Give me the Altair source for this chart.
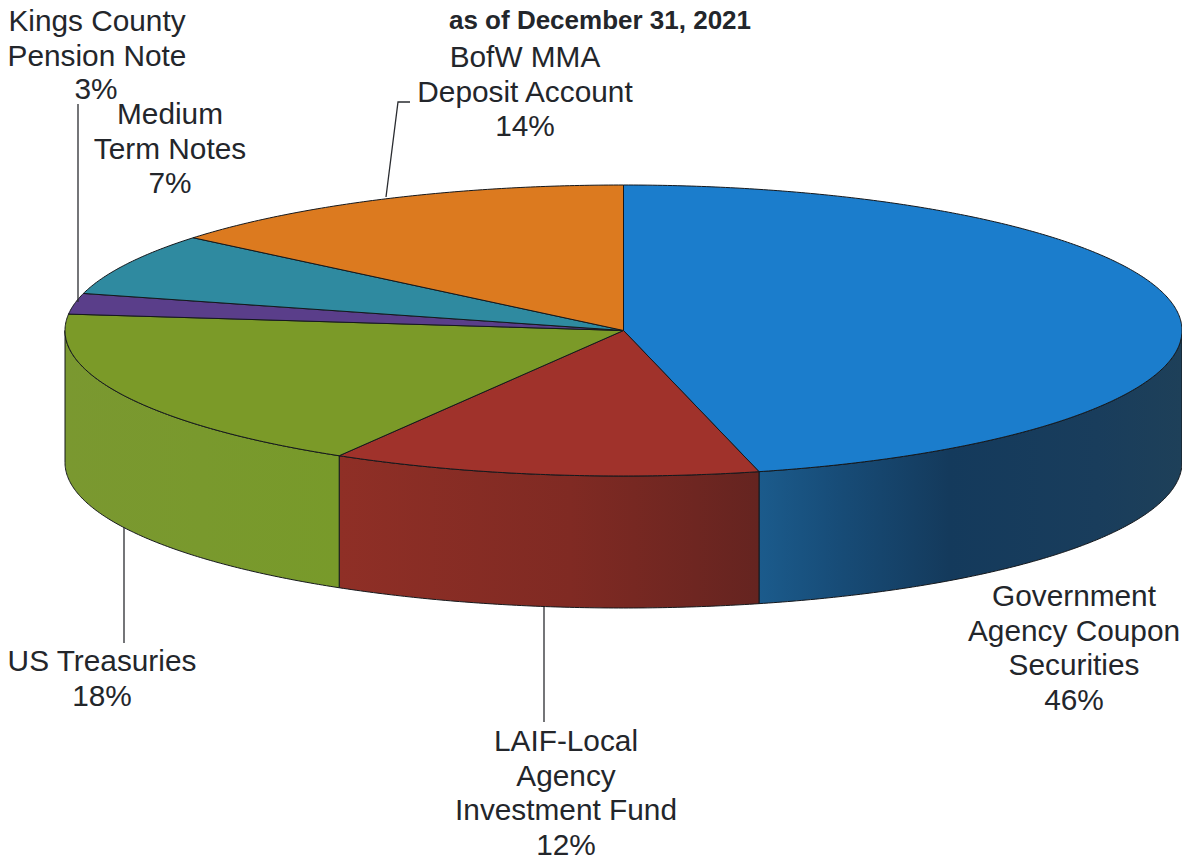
import math
import altair as alt
import pandas as pd

slices = ["Government Agency Coupon Securities", "LAIF-Local Agency Investment Fund",
          "US Treasuries", "Kings County Pension Note", "Medium Term Notes", "BofW MMA Deposit Account"]
drawn_share = [46.1, 12.4, 18.3, 2.3, 6.9, 14.0]
top_colors = ["#1b7dcc", "#a0322b", "#7b9a28", "#5a3e8a", "#2f8aa0", "#dc7a1f"]

label_lines = [
    ["Government", "Agency Coupon", "Securities", "46%"],
    ["LAIF-Local", "Agency", "Investment Fund", "12%"],
    ["US Treasuries", "18%"],
    ["Kings County", "Pension Note"],
    ["Medium", "Term Notes", "7%"],
    ["BofW MMA", "Deposit Account", "14%"],
]
extra_label = "3%"
title_text = "as of December 31, 2021"

# Layout of the drawing, in page pixels
LEFT, TOP, RIGHT, BOTTOM = 8, 8, 1182, 859
CX, CY, RX, RY, DEPTH = 623.5, 330.5, 558.5, 145.5, 132
EDGE = "#15181c"
TEXT = "#23262b"

x_scale = alt.Scale(domain=[LEFT, RIGHT], range=[0, RIGHT - LEFT], nice=False, zero=False)
y_scale = alt.Scale(domain=[BOTTOM, TOP], nice=False, zero=False)
X = alt.X("x:Q", scale=x_scale, axis=None)
Y = alt.Y("y:Q", scale=y_scale, axis=None)


def rim(angle, drop=0.0):
    t = math.radians(angle)
    return CX + RX * math.sin(t), CY - RY * math.cos(t) + drop


def arc(a0, a1, drop=0.0):
    n = max(2, int(abs(a1 - a0) * 2))
    return [rim(a0 + (a1 - a0) * k / n, drop) for k in range(n + 1)]


def shape(mark_fill, pts, width=1.0):
    rows = [{"x": p[0], "y": p[1], "i": k} for k, p in enumerate(pts)]
    return alt.Chart(pd.DataFrame(rows)).mark_line(
        fill=mark_fill, stroke=EDGE, strokeWidth=width, interpolate="linear", clip=False
    ).encode(x=X, y=Y, order=alt.Order("i:Q"))


def grad(stops):
    return alt.LinearGradient(
        gradient="linear", x1=0, x2=1, y1=0, y2=0,
        stops=[alt.GradientStop(color=c, offset=o) for o, c in stops],
    )


edges = [0.0]
for s in drawn_share:
    edges.append(edges[-1] + s * 3.6)

side_fills = [
    grad([(0, "#1b5b8c"), (0.2, "#174b76"), (0.45, "#143a5c"), (0.8, "#193d5c"), (1, "#1e4059")]),
    grad([(0, "#8f2f26"), (0.55, "#802a23"), (1, "#652420")]),
    grad([(0, "#7a9830"), (1, "#789a2a")]),
]

layers = []
# Front wall of the disc (visible between 3 o'clock and 9 o'clock)
for k, fill in enumerate(side_fills):
    a0 = max(edges[k], 90)
    a1 = min(edges[k + 1], 270)
    pts = arc(a0, a1) + arc(a1, a0, DEPTH)
    pts.append(pts[0])
    layers.append(shape(fill, pts))

# Top face
for k, color in enumerate(top_colors):
    pts = [(CX, CY)] + arc(edges[k], edges[k + 1]) + [(CX, CY)]
    layers.append(shape(color, pts))

# Leader lines
leaders = [
    [(78, 302), (78, 104)],
    [(386, 197), (398, 102), (410, 102)],
    [(124, 527), (124, 643)],
    [(544, 607), (544, 722)],
]
for path in leaders:
    rows = [{"x": p[0], "y": p[1], "i": k} for k, p in enumerate(path)]
    layers.append(
        alt.Chart(pd.DataFrame(rows)).mark_line(stroke="#2a2c30", strokeWidth=1.3)
        .encode(x=X, y=Y, order=alt.Order("i:Q"))
    )

# Text: centre x and first baseline for each label block
anchors = [(1074, 606), (566, 751), (102, 671), (97, 31), (170, 124), (525, 67)]
LEADING = 34.6
text_rows = []
for lines, (ax, ay) in zip(label_lines, anchors):
    for n, line in enumerate(lines):
        text_rows.append({"x": ax, "y": ay + n * LEADING, "t": line})
text_rows.append({"x": 96, "y": 99, "t": extra_label})

layers.append(
    alt.Chart(pd.DataFrame(text_rows))
    .mark_text(font="Liberation Sans", fontSize=29.8, color=TEXT, align="center", baseline="alphabetic")
    .encode(x=X, y=Y, text="t:N")
)
layers.append(
    alt.Chart(pd.DataFrame([{"x": 600, "y": 29, "t": title_text}]))
    .mark_text(font="Liberation Sans", fontSize=26, fontWeight="bold", color=TEXT, align="center", baseline="alphabetic")
    .encode(x=X, y=Y, text="t:N")
)

chart = (
    alt.layer(*layers)
    .properties(
        width=RIGHT - LEFT, height=BOTTOM - TOP, padding=0, background="#ffffff",
        autosize=alt.AutoSizeParams(type="none", contains="padding"),
    )
    .configure_view(stroke=None)
)

chart.save("out.html", embed_options={"renderer": "svg", "actions": False})
